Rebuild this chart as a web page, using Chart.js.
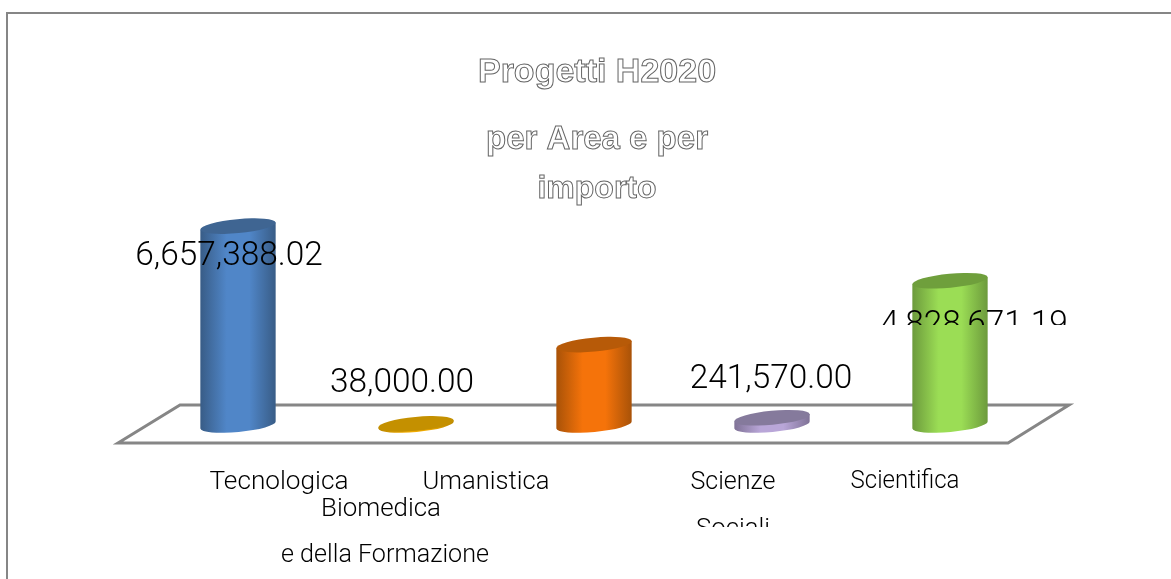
<!DOCTYPE html>
<html>
<head>
<meta charset="utf-8">
<title>Progetti H2020</title>
<script src="https://cdn.jsdelivr.net/npm/chart.js@4"></script>
<style>
    html, body { margin: 0; padding: 0; background: #fff; overflow: hidden; }
    canvas { display: block; }
</style>
</head>
<body>
<canvas id="progettiChart" width="1171" height="579"></canvas>
<script>
const titleLines = ['Progetti H2020', 'per Area e per', 'importo'];
const categories = ['Tecnologica', 'Biomedica', 'Umanistica', 'Scienze Sociali', 'Scientifica'];
const importi = [6657388.02, 38000.00, 2690000, 241570.00, 4828671.19];
const valueLabels = ['6,657,388.02', '38,000.00', null, '241,570.00', '4,828,671.19'];
const barColors = ['#5086c8', '#f0ab00', '#f5730a', '#b9a6d8', '#9bdd55'];
const edgeColors = ['#385c86', '#b98600', '#a85208', '#7f7296', '#6c9a3c'];
const capColors = ['#3f6592', '#c49000', '#b75a08', '#857a9c', '#6f9f3c'];

// where the original PowerPoint layout left the texts, relative to each bar
const valueLabelPlace = [
    { dx: -9, y: 265 },
    { dx: -14, y: 392 },
    null,
    { dx: -1, y: 388 },
    { dx: 24, y: 334, clipBelow: 325 }
];
const categoryLabelPlace = [
    [{ text: 'Tecnologica', dx: 41, y: 489, w: 139 }],
    [{ text: 'Biomedica', dx: -35, y: 516, w: 120 }, { text: 'e della Formazione', dx: -31, y: 562, w: 208 }],
    [{ text: 'Umanistica', dx: -108, y: 489, w: 127 }],
    [{ text: 'Scienze', dx: -39, y: 489, w: 85 }, { text: 'Sociali', dx: -39, y: 536, w: 74, clipBelow: 527 }],
    [{ text: 'Scientifica', dx: -45, y: 488, w: 109 }]
];
const titlePlace = [{ y: 82, size: 34 }, { y: 149, size: 33 }, { y: 198, size: 32 }];

const TILT = -0.095;
const CAP_RY = 7;
const BODY_FONT = 'Roboto, "Liberation Sans", sans-serif';
const TITLE_FONT = '"Liberation Sans", Arial, sans-serif';

function drawCylinder(ctx, bar, body, edge, cap) {
    const rx = bar.width / 2;
    const dx = rx * Math.cos(TILT);
    const dy = rx * Math.sin(TILT);
    const grad = ctx.createLinearGradient(bar.x - rx, 0, bar.x + rx, 0);
    grad.addColorStop(0, edge);
    grad.addColorStop(0.35, body);
    grad.addColorStop(0.65, body);
    grad.addColorStop(1, edge);
    ctx.fillStyle = grad;
    ctx.beginPath();
    ctx.moveTo(bar.x - dx, bar.y - dy);
    ctx.lineTo(bar.x - dx, bar.base - dy);
    ctx.ellipse(bar.x, bar.base, rx, CAP_RY, TILT, Math.PI, 0, true);
    ctx.lineTo(bar.x + dx, bar.y + dy);
    ctx.closePath();
    ctx.fill();
    ctx.fillStyle = cap;
    ctx.beginPath();
    ctx.ellipse(bar.x, bar.y, rx, CAP_RY, TILT, 0, Math.PI * 2);
    ctx.fill();
}

function clippedText(ctx, text, x, y, clipBelow, maxWidth) {
    ctx.save();
    if (clipBelow) {
        ctx.beginPath();
        ctx.rect(0, 0, 1171, clipBelow);
        ctx.clip();
    }
    if (maxWidth) ctx.fillText(text, x, y, maxWidth);
    else ctx.fillText(text, x, y);
    ctx.restore();
}

const cylinderPlugin = {
    id: 'cylinders',
    beforeDraw(chart) {
        // frame + floor
        const { ctx, scales } = chart;
        const base = scales.y.getPixelForValue(0);
        const l = scales.x.left, r = scales.x.right;
        ctx.save();
        ctx.strokeStyle = '#868686';
        ctx.lineWidth = 2;
        ctx.beginPath();
        ctx.moveTo(7, 579);
        ctx.lineTo(7, 13);
        ctx.lineTo(1171, 13);
        ctx.stroke();
        ctx.lineWidth = 3;
        ctx.beginPath();
        ctx.moveTo(l - 31, base + 18);
        ctx.lineTo(l + 31, base - 20);
        ctx.lineTo(r + 30, base - 20);
        ctx.lineTo(r - 31, base + 18);
        ctx.closePath();
        ctx.stroke();
        ctx.restore();
    },
    beforeDatasetDraw(chart, args) {
        const ctx = chart.ctx;
        chart.getDatasetMeta(args.index).data.forEach(function (bar, i) {
            drawCylinder(ctx, bar, barColors[i], edgeColors[i], capColors[i]);
        });
        return false;
    },
    afterDraw(chart) {
        const { ctx, scales } = chart;
        ctx.save();
        ctx.textAlign = 'center';
        ctx.textBaseline = 'alphabetic';

        // title, white with a grey outline
        ctx.fillStyle = '#fff';
        ctx.strokeStyle = '#666';
        ctx.lineWidth = 1;
        titlePlace.forEach(function (p, i) {
            ctx.font = 'bold ' + p.size + 'px ' + TITLE_FONT;
            ctx.fillText(titleLines[i], 597, p.y);
            ctx.strokeText(titleLines[i], 597, p.y);
        });

        ctx.fillStyle = '#000';
        ctx.font = '300 33.4px ' + BODY_FONT;
        valueLabels.forEach(function (label, i) {
            if (!label) return;
            const p = valueLabelPlace[i];
            clippedText(ctx, label, scales.x.getPixelForValue(i) + p.dx, p.y, p.clipBelow);
        });

        ctx.font = '300 26.5px ' + BODY_FONT;
        categoryLabelPlace.forEach(function (lines, i) {
            lines.forEach(function (p) {
                clippedText(ctx, p.text, scales.x.getPixelForValue(i) + p.dx, p.y, p.clipBelow, p.w);
            });
        });
        ctx.restore();
    }
};

new Chart(document.getElementById('progettiChart').getContext('2d'), {
    type: 'bar',
    data: {
        labels: categories,
        datasets: [{
            label: 'Importo',
            data: importi,
            backgroundColor: barColors,
            barPercentage: 1,
            categoryPercentage: 0.425
        }]
    },
    options: {
        responsive: false,
        animation: false,
        layout: { padding: { left: 149, right: 132, top: 186, bottom: 154 } },
        plugins: {
            legend: { display: false },
            tooltip: { enabled: false }
        },
        scales: {
            x: { display: false },
            y: { display: false, min: 0, max: 8000000 }
        }
    },
    plugins: [cylinderPlugin]
});
</script>
</body>
</html>
